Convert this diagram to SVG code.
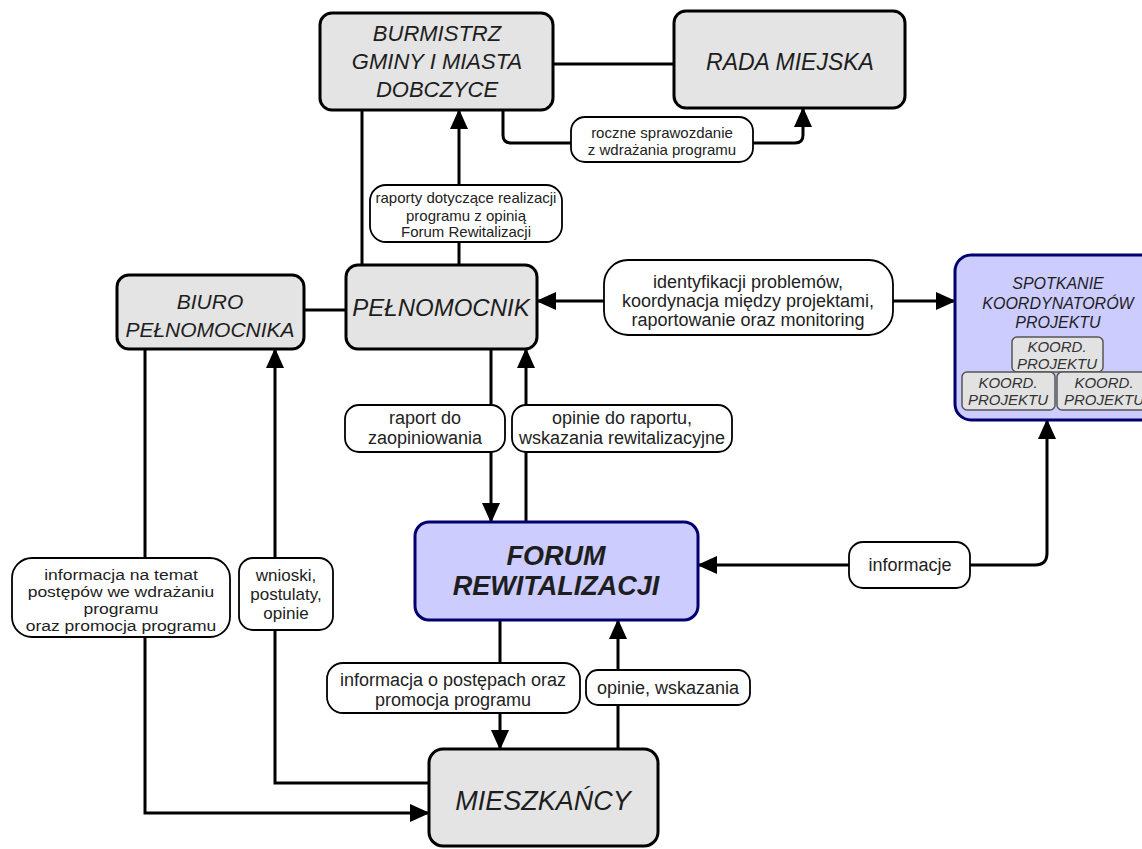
<svg xmlns="http://www.w3.org/2000/svg" width="1142" height="849" viewBox="0 0 1142 849">
<defs>
<style>
.node{fill:#e4e4e4;stroke:#000;stroke-width:3}
.blue{fill:#ccccff;stroke:#00006e;stroke-width:3}
.inner{fill:#e2e2e2;stroke:#555;stroke-width:1.5}
.nt{font-family:"Liberation Sans",Arial,sans-serif;font-style:italic;fill:#1e1e1e;text-anchor:middle}
.it{font-family:"Liberation Sans",Arial,sans-serif;font-style:italic;fill:#333;text-anchor:middle;font-size:15px}
.ln{fill:none;stroke:#000;stroke-width:3}
.lab{fill:#fff;stroke:#000;stroke-width:1.8}
.lt{font-family:"Liberation Sans",Arial,sans-serif;fill:#222;text-anchor:middle}
</style>
<marker id="ah" markerUnits="userSpaceOnUse" markerWidth="20" markerHeight="18" refX="19" refY="9" orient="auto-start-reverse">
<path d="M0,0 L20,9 L0,18 z" fill="#000"/>
</marker>
</defs>
<rect width="1142" height="849" fill="#fff"/>

<g id="connectors">
<path class="ln" d="M553,64 H674"/>
<path class="ln" d="M362,110 V265"/>
<path class="ln" d="M459,265 V110" marker-end="url(#ah)"/>
<path class="ln" d="M503,110 V135 Q503,143 511,143 H795 Q803,143 803,135 V108" marker-end="url(#ah)"/>
<path class="ln" d="M304,310 H346"/>
<path class="ln" d="M604,301 H537" marker-end="url(#ah)"/>
<path class="ln" d="M893,301 H955" marker-end="url(#ah)"/>
<path class="ln" d="M491,349 V522" marker-end="url(#ah)"/>
<path class="ln" d="M526,522 V349" marker-end="url(#ah)"/>
<path class="ln" d="M500,620 V749" marker-end="url(#ah)"/>
<path class="ln" d="M618,749 V620" marker-end="url(#ah)"/>
<path class="ln" d="M698,565 H1035 Q1047,565 1047,553 V420" marker-start="url(#ah)" marker-end="url(#ah)"/>
<path class="ln" d="M145,349 V813 H429" marker-end="url(#ah)"/>
<path class="ln" d="M429,783 H275 V349" marker-end="url(#ah)"/>

<rect class="lab" x="571" y="117" width="182" height="45" rx="14"/>
<text class="lt" font-size="15" x="662"><tspan x="662" y="138">roczne sprawozdanie</tspan><tspan x="662" y="155">z wdrażania programu</tspan></text>

<rect class="lab" x="370" y="185" width="192" height="57" rx="16"/>
<text class="lt" font-size="15"><tspan x="466" y="203">raporty dotyczące realizacji</tspan><tspan x="466" y="221">programu z opinią</tspan><tspan x="466" y="237">Forum Rewitalizacji</tspan></text>

<rect class="lab" x="604" y="260" width="289" height="75" rx="24"/>
<text class="lt" font-size="18"><tspan x="748" y="288">identyfikacji problemów,</tspan><tspan x="748" y="307">koordynacja między projektami,</tspan><tspan x="748" y="326">raportowanie oraz monitoring</tspan></text>

<rect class="lab" x="345" y="405" width="160" height="47" rx="14"/>
<text class="lt" font-size="18"><tspan x="425" y="424">raport do</tspan><tspan x="425" y="444">zaopiniowania</tspan></text>

<rect class="lab" x="512" y="405" width="220" height="47" rx="14"/>
<text class="lt" font-size="18"><tspan x="622" y="424">opinie do raportu,</tspan><tspan x="622" y="444">wskazania rewitalizacyjne</tspan></text>

<rect class="lab" x="12" y="558" width="218" height="79" rx="20"/>
<text class="lt" font-size="15.5" transform="translate(121,0) scale(1.13,1)"><tspan x="0" y="580">informacja na temat</tspan><tspan x="0" y="597">postępów we wdrażaniu</tspan><tspan x="0" y="614">programu</tspan><tspan x="0" y="631">oraz promocja programu</tspan></text>

<rect class="lab" x="239" y="558" width="94" height="72" rx="14"/>
<text class="lt" font-size="17"><tspan x="286" y="581">wnioski,</tspan><tspan x="286" y="600">postulaty,</tspan><tspan x="286" y="619">opinie</tspan></text>

<rect class="lab" x="327" y="663" width="253" height="50" rx="16"/>
<text class="lt" font-size="18"><tspan x="453" y="686">informacja o postępach oraz</tspan><tspan x="453" y="706">promocja programu</tspan></text>

<rect class="lab" x="586" y="670" width="164" height="35" rx="12"/>
<text class="lt" font-size="18" x="668" y="694">opinie, wskazania</text>

<rect class="lab" x="849" y="542" width="121" height="46" rx="14"/>
<text class="lt" font-size="18" x="910" y="571">informacje</text>
</g>

<g id="burmistrz">
<rect class="node" x="320" y="13" width="233" height="97" rx="12"/>
<text class="nt" font-size="22"><tspan x="437" y="41">BURMISTRZ</tspan><tspan x="437" y="69">GMINY I MIASTA</tspan><tspan x="437" y="97">DOBCZYCE</tspan></text>
</g>

<g id="rada">
<rect class="node" x="674" y="11" width="231" height="97" rx="12"/>
<text class="nt" font-size="23" x="790" y="70">RADA MIEJSKA</text>
</g>

<g id="biuro">
<rect class="node" x="117" y="275" width="187" height="74" rx="12"/>
<text class="nt" font-size="21"><tspan x="210" y="309">BIURO</tspan><tspan x="210" y="337">PEŁNOMOCNIKA</tspan></text>
</g>

<g id="pelnomocnik">
<rect class="node" x="346" y="265" width="191" height="84" rx="12"/>
<text class="nt" font-size="24" x="441" y="316">PEŁNOMOCNIK</text>
</g>

<g id="spotkanie">
<rect class="blue" x="955" y="255" width="210" height="165" rx="16"/>
<text class="nt" font-size="16" fill="#333"><tspan x="1058" y="289">SPOTKANIE</tspan><tspan x="1058" y="309">KOORDYNATORÓW</tspan><tspan x="1058" y="328">PROJEKTU</tspan></text>
<rect class="inner" x="1012" y="337" width="91" height="35" rx="5"/>
<text class="it"><tspan x="1057" y="352">KOORD.</tspan><tspan x="1057" y="369">PROJEKTU</tspan></text>
<rect class="inner" x="962" y="372" width="93" height="38" rx="5"/>
<text class="it"><tspan x="1008" y="388">KOORD.</tspan><tspan x="1008" y="405">PROJEKTU</tspan></text>
<rect class="inner" x="1057" y="372" width="95" height="38" rx="5"/>
<text class="it"><tspan x="1104" y="388">KOORD.</tspan><tspan x="1104" y="405">PROJEKTU</tspan></text>
</g>

<g id="forum">
<rect class="blue" x="415" y="522" width="283" height="98" rx="14"/>
<text class="nt" font-size="27" font-weight="bold"><tspan x="556" y="565">FORUM</tspan><tspan x="556" y="595">REWITALIZACJI</tspan></text>
</g>

<g id="mieszkancy">
<rect class="node" x="429" y="749" width="229" height="97" rx="14"/>
<text class="nt" font-size="27" x="543" y="810">MIESZKAŃCY</text>
</g>
</svg>
